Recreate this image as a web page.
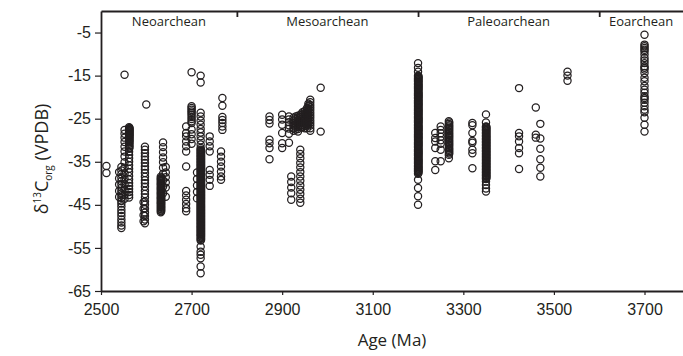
<!DOCTYPE html>
<html>
<head>
<meta charset="utf-8">
<script src="https://cdn.jsdelivr.net/npm/d3@7"></script>
<style>
  body { margin: 0; background: #fff; }
  svg { display: block; font-family: "Open Sans", sans-serif; }
</style>
</head>
<body>
<script>
// sample ages (Ma), one per vertical stack of points
const ages = [
  2512, 2540, 2545, 2552, 2562, 2563, 2594, 2597, 2600, 2632, 2633, 2637, 2643, 2688, 2700, 2712, 2720, 2721,
  2740, 2765, 2768,
  2872, 2900, 2915, 2920, 2925, 2930, 2935, 2940, 2941, 2945, 2950, 2955, 2958, 2962, 2985,
  3200, 3201, 3238, 3250, 3268, 3269, 3320, 3350, 3351, 3423, 3460, 3470, 3530,
  3700
];

// d13C org values (per mil VPDB) for each age above
const values = [
  [-36.0, -37.6],
  [-37.4, -38.9, -40.3, -41.8, -43.2],
  [-36.2, -37.0, -37.9, -38.7, -39.5, -40.2, -41.0, -41.7, -42.3, -42.8, -43.4, -44.1, -44.7, -45.4, -46.2, -46.9, -47.6, -48.4, -49.1, -49.8, -50.4],
  [-14.8, -27.6, -28.5, -29.4, -30.4, -31.5, -32.6, -33.8, -35.1, -36.4, -37.7, -39.0, -40.2, -41.5, -42.7, -43.6],
  [-27.0, -27.3, -27.6, -27.9, -28.2, -28.5, -28.8, -29.1, -29.5, -29.9, -30.3, -30.8, -31.4, -32.0, -32.7, -33.4, -34.2, -35.0, -35.8, -36.6, -37.4, -38.3, -39.1, -39.9, -40.6, -41.3, -42.0, -42.7, -43.3],
  [-27.15, -27.45, -27.75, -28.05, -28.35, -28.65, -28.95, -29.3, -29.7, -30.1, -30.55, -31.1, -31.7],
  [-44.4, -45.9, -47.4, -48.8],
  [-31.5, -32.2, -33.0, -33.8, -34.5, -35.3, -36.1, -36.8, -37.6, -38.5, -39.3, -40.0, -40.8, -41.7, -42.5, -43.3, -44.2, -45.0, -45.9, -46.8, -47.6, -48.4, -49.3],
  [-21.7],
  [-38.5, -38.9, -39.2, -39.6, -40.0, -40.3, -40.7, -41.1, -41.4, -41.8, -42.2, -42.5, -42.9, -43.3, -43.6, -44.0, -44.4, -44.7, -45.1, -45.5, -45.9, -46.3, -46.7],
  [-38.7, -39.05, -39.4, -39.8, -40.15, -40.5, -40.9, -41.25, -41.6, -42.0, -42.35, -42.7, -43.1, -43.45, -43.8, -44.2, -44.55, -44.9, -45.3, -45.7, -46.1, -46.5],
  [-30.5, -31.6, -32.8, -34.0, -35.1, -36.4, -37.8, -39.3, -40.8, -42.3],
  [-36.2, -37.5, -38.6, -39.8, -41.0, -43.1],
  [-26.8, -28.3, -29.1, -30.3, -31.4, -32.6, -36.1, -41.8, -42.8, -43.8, -44.8, -45.8, -46.5],
  [-14.2, -22.1, -22.5, -22.9, -23.3, -23.7, -24.1, -24.6, -25.1, -25.6, -26.0, -27.5, -28.6, -29.7, -30.8],
  [-37.5, -39.0, -40.5, -42.0, -43.5],
  [-15.0, -16.6, -23.6, -24.5, -25.5, -26.4, -27.4, -28.2, -29.1, -30.0, -31.0, -31.8,
   -32.2, -32.5, -32.9, -33.2, -33.6, -33.9, -34.3, -34.6, -35.0, -35.3, -35.7, -36.0, -36.4, -36.7, -37.1, -37.4,
   -37.8, -38.1, -38.5, -38.8, -39.2, -39.5, -39.9, -40.2, -40.6, -40.9, -41.3, -41.6, -42.0, -42.3, -42.7, -43.0,
   -43.4, -43.7, -44.1, -44.4, -44.8, -45.1, -45.5, -45.8, -46.2, -46.5, -46.9, -47.2, -47.6, -47.9, -48.3, -48.6,
   -49.0, -49.3, -49.7, -50.0, -50.4, -50.7, -51.1, -51.4, -51.8, -52.1, -52.5, -52.9, -53.3,
   -54.7, -55.9, -56.6, -57.4, -59.3, -60.9],
  [-32.35, -32.7, -33.05, -33.4, -33.75, -34.1, -34.45, -34.8, -35.15, -35.5, -35.85, -36.2, -36.55, -36.9, -37.25,
   -37.6, -37.95, -38.3, -38.65, -39.0, -39.35, -39.7, -40.05, -40.4, -40.75, -41.1, -41.45, -41.8, -42.15, -42.5,
   -42.85, -43.2, -43.55, -43.9, -44.25, -44.6, -44.95, -45.3, -45.65, -46.0, -46.35, -46.7, -47.05, -47.4, -47.75,
   -48.1, -48.45, -48.8, -49.15, -49.5, -49.85, -50.2, -50.55, -50.9, -51.25, -51.6, -51.95, -52.3, -52.7, -53.1],
  [-29.1, -30.3, -31.4, -32.6, -36.9, -38.0, -39.2, -40.6],
  [-32.6, -33.8, -35.0, -36.1, -37.3, -38.4, -39.2],
  [-20.2, -22.0, -24.6, -25.3, -26.0, -26.8, -27.6],
  [-24.5, -25.3, -26.1, -29.9, -30.7, -31.8, -34.4],
  [-24.1, -25.2, -26.4, -28.3, -30.7, -31.8],
  [-24.5, -25.2, -25.8, -26.5, -27.3, -28.5, -30.6],
  [-38.4, -39.7, -41.0, -42.3, -43.8],
  [-24.8, -25.4, -26.0, -26.6, -27.2, -27.8],
  [-24.5, -25.0, -25.5, -26.0, -26.5, -27.0, -27.5],
  [-24.3, -24.8, -25.3, -25.8, -26.3, -26.8, -27.4, -28.0],
  [-32.2, -33.2, -34.2, -35.3, -36.3, -37.4, -38.4, -39.4, -40.5, -41.5, -42.5, -43.6, -44.5],
  [-24.0, -24.6, -25.2, -25.8, -26.4, -27.0],
  [-23.5, -24.0, -24.5, -25.0, -25.5, -26.0, -26.5, -27.0],
  [-23.2, -23.7, -24.2, -24.7, -25.2, -25.7, -26.2, -26.7, -27.2],
  [-22.5, -23.0, -23.5, -24.0, -24.5, -25.0, -25.5, -26.0, -26.6, -27.2],
  [-21.5, -22.0, -22.6, -23.2, -23.8, -24.4, -25.0, -25.6, -26.2],
  [-20.6, -21.2, -21.8, -22.4, -23.0, -23.6, -24.2, -24.8, -25.4, -26.0, -26.6, -27.2, -27.8],
  [-17.8, -28.0],
  [-12.1, -13.2, -14.1,
   -15.0, -15.3, -15.6, -15.9, -16.2, -16.5, -16.9, -17.2, -17.5, -17.8, -18.1, -18.4, -18.8, -19.1, -19.4, -19.7,
   -20.0, -20.3, -20.7, -21.0, -21.3, -21.6, -21.9, -22.2, -22.6, -22.9, -23.2, -23.5, -23.8, -24.1, -24.5, -24.8,
   -25.1, -25.4, -25.7, -26.0, -26.4, -26.7, -27.0, -27.3, -27.6, -27.9, -28.3, -28.6, -28.9, -29.2, -29.5, -29.8,
   -30.2, -30.5, -30.8, -31.1, -31.4, -31.7, -32.1, -32.4, -32.7, -33.0, -33.3, -33.6, -34.0, -34.3, -34.6, -34.9,
   -35.2, -35.5, -35.9, -36.2, -36.5, -36.8, -37.1, -37.4, -37.8,
   -39.2, -41.1, -43.0, -45.0],
  [-15.15, -15.45, -15.75, -16.05, -16.35, -16.7, -17.05, -17.35, -17.65, -17.95, -18.25, -18.6, -18.95, -19.25,
   -19.55, -19.85, -20.15, -20.5, -20.85, -21.15, -21.45, -21.75, -22.05, -22.4, -22.75, -23.05, -23.35, -23.65,
   -23.95, -24.3, -24.65, -24.95, -25.25, -25.55, -25.85, -26.2, -26.55, -26.85, -27.15, -27.45, -27.75, -28.1,
   -28.45, -28.75, -29.05, -29.35, -29.65, -30.0, -30.35, -30.65, -30.95, -31.25, -31.55, -31.9, -32.25, -32.55,
   -32.85, -33.15, -33.45, -33.8, -34.15, -34.45, -34.75, -35.05, -35.35, -35.7, -36.05, -36.35, -36.65, -36.95,
   -37.25, -37.6],
  [-28.3, -29.5, -30.3, -31.8, -34.9, -36.9],
  [-26.8, -27.6, -28.4, -29.2, -30.0, -30.8, -32.2, -34.9],
  [-25.6, -26.2, -26.8, -27.4, -28.0, -28.6, -29.2, -29.8, -30.4, -31.0, -31.6, -32.2, -32.8, -33.4, -34.2],
  [-25.9, -26.5, -27.1, -27.7, -28.3, -28.9, -29.5, -30.1, -30.7, -31.3, -31.9, -32.5, -33.1],
  [-26.0, -26.5, -28.3, -30.2, -30.6, -32.2, -33.0, -36.5],
  [-24.0, -25.9,
   -26.8, -27.1, -27.5, -27.8, -28.2, -28.5, -28.9, -29.2, -29.6, -29.9, -30.3, -30.6, -31.0, -31.3, -31.7, -32.0,
   -32.4, -32.7, -33.1, -33.4, -33.8, -34.1, -34.5, -34.8, -35.2, -35.5, -35.9, -36.2, -36.6, -36.9, -37.3, -37.6,
   -38.0, -38.3, -38.7, -39.0,
   -39.6, -40.4, -41.2, -41.9],
  [-26.95, -27.3, -27.65, -28.0, -28.35, -28.7, -29.05, -29.4, -29.75, -30.1, -30.45, -30.8, -31.15, -31.5, -31.85,
   -32.2, -32.55, -32.9, -33.25, -33.6, -33.95, -34.3, -34.65, -35.0, -35.35, -35.7, -36.05, -36.4, -36.75, -37.1,
   -37.45, -37.8, -38.15, -38.5, -38.85],
  [-17.9, -28.3, -29.1, -30.3, -31.8, -33.0, -36.7],
  [-22.4, -28.7, -29.4],
  [-26.2, -29.6, -32.0, -34.4, -36.4, -38.4],
  [-14.1, -15.0, -16.2],
  [-5.5, -7.8, -8.2, -8.6, -9.0, -9.4, -10.1, -10.9, -11.5, -12.1, -12.8, -13.2, -13.6, -14.4, -15.5, -16.3, -17.4,
   -18.3, -19.0, -19.8, -20.2, -20.6, -21.3, -22.1, -22.9, -23.5, -24.8, -26.4, -28.0]
];

const xTicks = [2500, 2700, 2900, 3100, 3300, 3500, 3700];
const yTicks = [-5, -15, -25, -35, -45, -55, -65];

const eraNames = ["Neoarchean", "Mesoarchean", "Paleoarchean", "Eoarchean"];
const eraBounds = [2500, 2800, 3200, 3600, 3785];

const width = 683;
const height = 356;
const margin = { top: 11, right: 0, bottom: 65, left: 101 };
const INK = "#231f20";

const points = ages.flatMap((age, i) => values[i].map((v) => ({ age, v })));

const x = d3
  .scaleLinear()
  .domain([eraBounds[0], eraBounds[eraBounds.length - 1]])
  .range([margin.left, width - margin.right]);

const y = d3
  .scaleLinear()
  .domain([-65, 0])
  .range([height - margin.bottom, margin.top]);

const svg = d3
  .select("body")
  .append("svg")
  .attr("width", width)
  .attr("height", height);

// points
svg
  .append("g")
  .attr("fill", "none")
  .attr("stroke", INK)
  .attr("stroke-width", 1.25)
  .selectAll("circle")
  .data(points)
  .join("circle")
  .attr("cx", (d) => x(d.age))
  .attr("cy", (d) => y(d.v))
  .attr("r", 3.6);

// left axis
svg
  .append("g")
  .attr("transform", `translate(${margin.left},0)`)
  .call(
    d3
      .axisLeft(y)
      .tickValues(yTicks)
      .tickSize(6)
      .tickSizeOuter(0)
      .tickPadding(4)
      .tickFormat((d) => String(d))
  )
  .call((g) => g.selectAll("text").attr("font-size", 16).attr("fill", INK))
  .call((g) => g.selectAll("line").attr("stroke", INK).attr("stroke-width", 1.2))
  .call((g) => g.select(".domain").attr("stroke", INK).attr("stroke-width", 1.8));

// bottom axis
svg
  .append("g")
  .attr("transform", `translate(0,${height - margin.bottom})`)
  .call(
    d3
      .axisBottom(x)
      .tickValues(xTicks)
      .tickSize(4)
      .tickSizeOuter(0)
      .tickPadding(9)
      .tickFormat((d) => String(d))
  )
  .call((g) => g.selectAll("text").attr("font-size", 16).attr("fill", INK))
  .call((g) => g.selectAll("line").attr("stroke", INK).attr("stroke-width", 1.2))
  .call((g) => g.select(".domain").attr("stroke", INK).attr("stroke-width", 1.8));

// top frame with era boundaries
svg
  .append("g")
  .attr("transform", `translate(0,${margin.top})`)
  .call(
    d3
      .axisTop(x)
      .tickValues(eraBounds.slice(1, -1))
      .tickSize(-6)
      .tickSizeOuter(0)
      .tickFormat("")
  )
  .call((g) => g.selectAll("line").attr("stroke", INK).attr("stroke-width", 1.8))
  .call((g) => g.select(".domain").attr("stroke", INK).attr("stroke-width", 1.8));

svg
  .append("g")
  .selectAll("text")
  .data(eraNames)
  .join("text")
  .attr("x", (d, i) => x((eraBounds[i] + eraBounds[i + 1]) / 2))
  .attr("y", 26)
  .attr("text-anchor", "middle")
  .attr("font-size", 13)
  .attr("fill", INK)
  .text((d) => d);

// axis titles
svg
  .append("text")
  .attr("x", (margin.left + width) / 2)
  .attr("y", 346)
  .attr("text-anchor", "middle")
  .attr("font-size", 17)
  .attr("fill", INK)
  .text("Age (Ma)");

const yTitle = svg
  .append("text")
  .attr("transform", `translate(48,${(y(0) + y(-65)) / 2 + 8}) rotate(-90)`)
  .attr("text-anchor", "middle")
  .attr("font-size", 18)
  .attr("fill", INK);
yTitle.append("tspan").text("δ");
yTitle.append("tspan").attr("font-size", 10).attr("dy", -7).text("13");
yTitle.append("tspan").attr("dy", 7).text("C");
yTitle.append("tspan").attr("font-size", 10).attr("dy", 4).text("org");
yTitle.append("tspan").attr("dy", -4).text(" (VPDB)");
</script>
</body>
</html>
